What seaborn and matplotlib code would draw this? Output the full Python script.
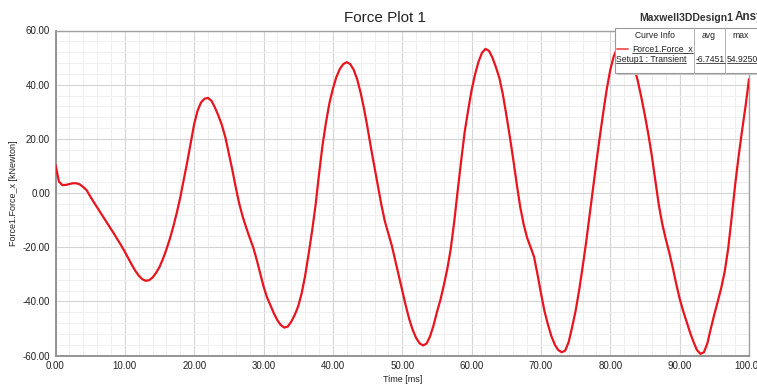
import numpy as np
import pandas as pd
import matplotlib
matplotlib.use("Agg")
import matplotlib.pyplot as plt
from matplotlib.patches import Rectangle
from matplotlib.lines import Line2D
from matplotlib.ticker import MultipleLocator, FormatStrFormatter
import seaborn as sns

# ---- data (samples every 0.5 ms) ----
time_ms = list(np.arange(0, 100.5, 0.5))
force_x = [
    10.4, 4.2, 2.9, 3.0, 3.3, 3.6, 3.6, 3.2, 2.2, 1.0,          # 0 - 4.5
    -1.2, -3.3, -5.3, -7.3, -9.3, -11.3, -13.3, -15.3, -17.4, -19.5,  # 5 - 9.5
    -21.7, -24.1, -26.5, -28.7, -30.5, -31.8, -32.4, -32.2, -31.2, -29.5,  # 10 - 14.5
    -27.3, -24.3, -20.8, -16.8, -12.3, -7.2, -1.5, 5.0, 11.5, 18.5,  # 15 - 19.5
    25.5, 30.5, 33.5, 34.8, 35.1, 34.0, 31.5, 28.5, 25.0, 20.5,  # 20 - 24.5
    14.5, 8.5, 2.0, -4.0, -8.8, -12.8, -16.5, -20.0, -24.5, -29.5,  # 25 - 29.5
    -34.5, -38.5, -41.5, -44.5, -47.0, -48.8, -49.7, -49.3, -47.5, -45.0,  # 30 - 34.5
    -41.8, -37.0, -30.5, -22.5, -14.0, -4.5, 7.0, 17.5, 26.0, 33.2,  # 35 - 39.5
    38.5, 42.8, 45.8, 47.6, 48.3, 47.6, 45.5, 42.0, 37.0, 31.0,  # 40 - 44.5
    24.0, 16.5, 9.5, 2.5, -4.5, -10.5, -15.0, -19.5, -25.0, -30.5,  # 45 - 49.5
    -36.0, -41.5, -46.5, -50.5, -53.5, -55.5, -56.3, -55.6, -53.0, -49.0,  # 50 - 54.5
    -44.0, -39.5, -34.0, -28.0, -20.5, -10.5, 1.0, 12.0, 22.5, 30.5,  # 55 - 59.5
    38.0, 43.8, 48.5, 51.8, 53.2, 52.5, 50.0, 46.5, 42.5, 36.5,  # 60 - 64.5
    29.0, 21.0, 12.5, 3.5, -5.0, -11.5, -16.5, -20.0, -23.5, -30.0,  # 65 - 69.5
    -37.0, -43.5, -48.5, -52.8, -56.0, -58.0, -58.8, -58.2, -55.0, -49.5,  # 70 - 74.5
    -43.5, -36.0, -27.5, -18.5, -8.5, 1.5, 11.5, 21.0, 30.0, 38.5,  # 75 - 79.5
    45.5, 50.5, 53.5, 54.8, 54.9, 53.8, 51.0, 46.0, 41.0, 35.0,  # 80 - 84.5
    28.5, 21.5, 13.5, 4.5, -4.5, -11.5, -17.0, -22.0, -27.5, -33.5,  # 85 - 89.5
    -39.0, -43.5, -47.5, -51.5, -55.0, -58.0, -59.4, -58.8, -55.5, -50.0,  # 90 - 94.5
    -44.8, -40.0, -35.0, -29.0, -20.5, -9.0, 3.0, 13.5, 23.0, 32.0,  # 95 - 99.5
    42.0,                                                            # 100
]

x_ticks = [0, 10, 20, 30, 40, 50, 60, 70, 80, 90, 100]
y_ticks = [-60, -40, -20, 0, 20, 40, 60]

title = "Force Plot 1"
design_name = "Maxwell3DDesign1"
brand = "Ansys"
curve_name = "Force1.Force_x"
curve_setup = "Setup1 : Transient"
avg_text = "-6.7451"
max_text = "54.9250"

df = pd.DataFrame({"Time [ms]": time_ms, "Force": force_x})

W, H = 757, 386
sns.set_style("white")
plt.rcParams["font.family"] = ["Liberation Sans", "DejaVu Sans"]

fig = plt.figure(figsize=(W / 100, H / 100), dpi=100)

def fx(x):
    return x / W

def fy(y):
    return 1 - y / H

ax = fig.add_axes([fx(55.5), fy(355.5), fx(749) - fx(55.5), fy(30.5) - fy(355.5)])

sns.lineplot(data=df, x="Time [ms]", y="Force", ax=ax, color="#e8141e",
             linewidth=1.6, sort=False, zorder=3)

ax.set_xlim(0, 100)
ax.set_ylim(-60, 60)
ax.set_xticks(x_ticks)
ax.set_yticks(y_ticks)
ax.xaxis.set_minor_locator(MultipleLocator(2))
ax.yaxis.set_minor_locator(MultipleLocator(4))
ax.xaxis.set_major_formatter(FormatStrFormatter("%.2f"))
ax.yaxis.set_major_formatter(FormatStrFormatter("%.2f"))
ax.grid(which="major", color="#d4d4d4", linewidth=0.8)
ax.grid(which="minor", color="#efefef", linewidth=0.7)
ax.set_axisbelow(True)
ax.tick_params(which="major", direction="inout", length=4, width=0.8, color="#808080",
               labelsize=7, labelcolor="#222222", pad=2)
ax.tick_params(which="minor", direction="in", length=2.5, width=0.6, color="#808080")
for side in ["left", "bottom"]:
    ax.spines[side].set_color("#8c8c8c")
    ax.spines[side].set_linewidth(1.3)
for side in ["top", "right"]:
    ax.spines[side].set_color("#a0a0a0")
    ax.spines[side].set_linewidth(1.0)

ax.set_xlabel("Time [ms]", fontsize=6.5, color="#222222", labelpad=3)
ax.set_ylabel("Force1.Force_x [kNewton]", fontsize=6.5, color="#222222", labelpad=3)

fig.text(fx(385), fy(18), title, fontsize=11, ha="center", va="center", color="#222222")
fig.text(fx(686), fy(18), design_name, fontsize=7.5, ha="center", va="center",
         color="#333333", fontweight="bold")
fig.text(fx(735), fy(17), brand, fontsize=8.5, ha="left", va="center",
         color="#333333", fontweight="bold")

# curve-info box
x0, y0, x1, y1 = 615, 28, 760, 73
shadow = Rectangle((fx(x0 + 2), fy(y1 + 2)), fx(x1) - fx(x0), fy(y0) - fy(y1),
                   transform=fig.transFigure, facecolor="#c8c8c8", edgecolor="none", zorder=9)
box = Rectangle((fx(x0), fy(y1)), fx(x1) - fx(x0), fy(y0) - fy(y1),
                transform=fig.transFigure, facecolor="white", edgecolor="#9a9a9a",
                linewidth=0.8, zorder=10)
fig.add_artist(shadow)
fig.add_artist(box)
for cx in [694, 725]:
    fig.add_artist(Line2D([fx(cx), fx(cx)], [fy(y0), fy(y1)], transform=fig.transFigure,
                          color="#b0b0b0", linewidth=0.7, zorder=11))
fig.add_artist(Line2D([fx(617), fx(628)], [fy(49), fy(49)], transform=fig.transFigure,
                      color="#f06060", linewidth=1.4, zorder=11))

fs = 6.2
cell_texts = [
    (fx(655), fy(36), "Curve Info", "center", False),
    (fx(709), fy(36), "avg", "center", False),
    (fx(741), fy(36), "max", "center", False),
    (fx(632), fy(49), curve_name, "left", True),
    (fx(616), fy(59), curve_setup, "left", True),
    (fx(696), fy(59), avg_text, "left", True),
    (fx(727), fy(59), max_text, "left", True),
]
text_objs = []
for x, y, s, ha, ul in cell_texts:
    t = fig.text(x, y, s, fontsize=fs, ha=ha, va="center", color="#222222", zorder=12)
    if ul:
        text_objs.append(t)

fig.canvas.draw()
r = fig.canvas.get_renderer()
for t in text_objs:
    bb = t.get_window_extent(r)
    yline = bb.y0 + 0.5
    fig.add_artist(Line2D([bb.x0 / W, bb.x1 / W], [yline / H, yline / H],
                          transform=fig.transFigure, color="#333333", linewidth=0.6, zorder=12))

fig.savefig("out.png", dpi=100)
